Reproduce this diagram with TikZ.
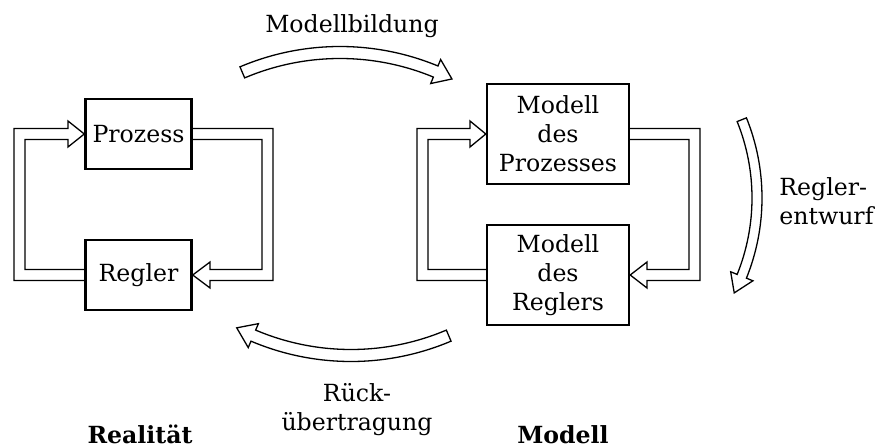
\documentclass[tikz,border=0pt]{standalone}
\usepackage{fontspec}
\setmainfont{DejaVu Serif}
\usetikzlibrary{calc}

\tikzset{
  blockbox/.style={draw, line width=1.2pt, align=center, inner sep=0pt},
  smallblock/.style={blockbox, minimum width=53pt, minimum height=35pt},
  bigblock/.style={blockbox, minimum width=71pt, minimum height=50pt},
  hollow/.style={draw, line width=0.65pt, line join=miter, fill=white},
  label/.style={font=\fontsize{11.8}{14.5}\selectfont, inner sep=0pt},
  title/.style={label, font=\fontsize{11.8}{14.5}\selectfont\bfseries}
}

\begin{document}
\begin{tikzpicture}[x=0.5pt, y=-0.5pt, every node/.append style={font=\fontsize{11.8}{14.5}\selectfont}]
  \useasboundingbox (0,0) rectangle (882,448);

  % blocks of the real plant loop
  \node[smallblock] (proz) at (138.5,134) {Prozess};
  \node[smallblock] (reg)  at (138.5,275) {Regler};

  % blocks of the model loop
  \node[bigblock] (mproz) at (558,134) {Modell\\des\\Prozesses};
  \node[bigblock] (mreg)  at (558,275) {Modell\\des\\Reglers};

  % real loop: controller -> process
  \draw[hollow, fill=none] ($(reg.west)+(0,5.5)$) -- (14,280.5) -- (14,128.5) -- (68,128.5)
     -- (68,121) -- (proz.west) -- (68,147) -- (68,139.5) -- (25,139.5) -- (25,269.5)
     -- ($(reg.west)+(0,-5.5)$);
  % real loop: process -> controller
  \draw[hollow, fill=none] ($(proz.east)+(0,-5.5)$) -- (273,128.5) -- (273,280.5) -- (210,280.5)
     -- (210,288) -- (reg.east) -- (210,262) -- (210,269.5) -- (262,269.5) -- (262,139.5)
     -- ($(proz.east)+(0,5.5)$);

  % model loop: controller model -> process model
  \draw[hollow, fill=none] ($(mreg.west)+(0,5.5)$) -- (417,280.5) -- (417,128.5) -- (470,128.5)
     -- (470,121) -- (mproz.west) -- (470,147) -- (470,139.5) -- (428,139.5) -- (428,269.5)
     -- ($(mreg.west)+(0,-5.5)$);
  % model loop: process model -> controller model
  \draw[hollow, fill=none] ($(mproz.east)+(0,-5.5)$) -- (700,128.5) -- (700,280.5) -- (647,280.5)
     -- (647,288) -- (mreg.east) -- (647,262) -- (647,269.5) -- (689,269.5) -- (689,139.5)
     -- ($(mproz.east)+(0,5.5)$);

  % curved arrow: modelling
  \coordinate (c1) at (340,302.5);
  \draw[hollow] ($(c1)+(-113:256)$) arc[start angle=-113, end angle=-67.5, radius=256]
     -- ($(c1)+(-67.5:263)$) -- ($(c1)+(-63.4:250)$) -- ($(c1)+(-67.5:237)$)
     -- ($(c1)+(-67.5:244)$) arc[start angle=-67.5, end angle=-113, radius=244] -- cycle;

  % curved arrow: controller design
  \coordinate (c3) at (548,198);
  \draw[hollow] ($(c3)+(-22:214)$) arc[start angle=-22, end angle=22, radius=214]
     -- ($(c3)+(22:221)$) -- ($(c3)+(27:209)$) -- ($(c3)+(22:197)$)
     -- ($(c3)+(22:204)$) arc[start angle=22, end angle=-22, radius=204] -- cycle;

  % curved arrow: transfer back
  \coordinate (c2) at (351,105.5);
  \draw[hollow] ($(c2)+(67:256)$) arc[start angle=67, end angle=113, radius=256]
     -- ($(c2)+(113:263)$) -- ($(c2)+(117.2:250)$) -- ($(c2)+(113:237)$)
     -- ($(c2)+(113:244)$) arc[start angle=113, end angle=67, radius=244] -- cycle;

  % labels
  \node[label, anchor=base] (lmod) at (352,33) {Modellbildung};
  \node[label, anchor=west, align=left] (lentw) at (779,201) {Regler-\\entwurf};
  \node[label, anchor=center, align=center] (lrueck) at (357,410) {Rück-\\übertragung};
  \node[title, anchor=base] (lreal) at (140,443) {Realität};
  \node[title, anchor=base] (lmodell) at (563,443) {Modell};
\end{tikzpicture}
\end{document}
